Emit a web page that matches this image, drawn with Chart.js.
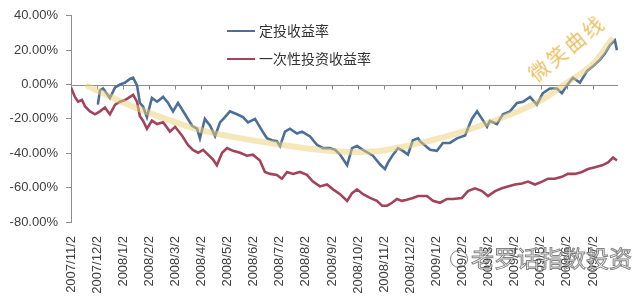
<!DOCTYPE html>
<html>
<head>
<meta charset="utf-8">
<script src="https://cdn.jsdelivr.net/npm/chart.js@4/dist/chart.umd.min.js"></script>
<style>
  html, body { margin: 0; padding: 0; background: #ffffff; }
  #wrap { position: relative; width: 640px; height: 303px; overflow: hidden; }
  #c { position: absolute; left: 0; top: 0; }
  .leg { position: absolute; font-family: "Noto Sans CJK SC", sans-serif; font-size: 14px; color: #333; white-space: nowrap; line-height: 16px; }
  .leg i { display: inline-block; width: 28px; height: 0; border-top: 2.5px solid; vertical-align: middle; margin-right: 4px; position: relative; top: -1px; }
  #smile { position: absolute; left: 567px; top: 48px; transform: translate(-50%, -50%) rotate(-39deg); font-family: "Noto Sans CJK SC", sans-serif; font-size: 20px; letter-spacing: 3px; color: #E8BF5E; white-space: nowrap; line-height: 22px; }
  #wm { position: absolute; left: 450px; top: 244px; font-family: "Noto Sans CJK SC", sans-serif; font-size: 23px; color: rgba(255,255,255,0.85); -webkit-text-stroke: 1px rgba(90,90,90,0.75); white-space: nowrap; line-height: 26px; }
  #wm span.ic { display: inline-block; width: 16px; height: 16px; border: 1.5px solid rgba(90,90,90,0.75); border-radius: 50%; vertical-align: middle; margin-right: 3px; position: relative; top: -2px; }
</style>
</head>
<body>
<div id="wrap">
  <canvas id="c" width="640" height="303"></canvas>
  <div class="leg" style="left:227px; top:22px;"><i style="border-color:#4B6F99"></i>定投收益率</div>
  <div class="leg" style="left:227px; top:50px;"><i style="border-color:#A3435A"></i>一次性投资收益率</div>
  <div id="smile">微笑曲线</div>
  <div id="wm"><span class="ic"></span>老罗话指数投资</div>
</div>
<script>
// Tick labels (monthly dates) on the category axis
const tickLabels = ["2007/11/2","2007/12/2","2008/1/2","2008/2/2","2008/3/2","2008/4/2","2008/5/2","2008/6/2","2008/7/2","2008/8/2","2008/9/2","2008/10/2","2008/11/2","2008/12/2","2009/1/2","2009/2/2","2009/3/2","2009/4/2","2009/5/2","2009/6/2","2009/7/2"];

// Series 1: 定投收益率 (months since 2007/11/2, return %)
const dingtouMonths = [1.03,1.11,1.23,1.49,1.69,1.88,2.07,2.26,2.38,2.53,2.64,2.76,2.91,3.10,3.30,3.53,3.72,3.91,4.10,4.37,4.64,4.83,4.94,5.13,5.33,5.52,5.71,5.90,6.09,6.36,6.59,6.78,7.05,7.32,7.51,7.70,7.89,8.01,8.20,8.39,8.66,8.85,9.16,9.43,9.66,9.92,10.12,10.31,10.58,10.77,10.96,11.19,11.38,11.57,11.84,12.03,12.15,12.34,12.53,12.72,12.91,13.10,13.30,13.37,13.76,14.02,14.25,14.52,14.79,15.10,15.36,15.56,15.75,15.94,16.05,16.32,16.55,16.82,17.09,17.32,17.59,17.85,18.08,18.35,18.62,18.81,19.00,19.23,19.50,19.77,20.00,20.27,20.46,20.65,20.84,20.92];
const dingtouValues = [-11.7,-3.4,-2.3,-7.8,-1.7,0.0,1.1,3.3,4.0,-0.5,-10.7,-12.8,-19.0,-7.8,-10.0,-7.2,-10.7,-15.6,-10.7,-17.3,-24.0,-25.7,-31.3,-20.0,-24.0,-30.0,-22.0,-19.0,-15.6,-17.3,-19.0,-22.0,-20.0,-26.8,-31.3,-32.4,-33.0,-35.8,-27.4,-25.7,-28.5,-27.4,-30.2,-35.2,-37.0,-37.0,-38.0,-40.8,-47.0,-37.0,-35.8,-38.0,-39.7,-41.4,-46.4,-49.2,-45.3,-40.8,-37.0,-38.6,-40.8,-32.4,-31.3,-33.0,-38.0,-38.6,-34.0,-34.0,-31.3,-29.6,-20.0,-15.6,-20.0,-24.6,-21.2,-23.0,-17.3,-15.6,-10.7,-10.0,-7.2,-11.7,-5.0,-2.3,-2.3,-5.0,-0.5,4.0,1.1,7.8,10.6,14.5,18.0,22.9,25.7,20.0];

// Series 2: 一次性投资收益率
const lumpMonths = [0.00,0.15,0.27,0.42,0.54,0.73,0.92,1.11,1.30,1.49,1.69,1.88,2.07,2.26,2.38,2.53,2.64,2.76,2.91,3.10,3.30,3.53,3.79,3.99,4.25,4.48,4.67,4.87,5.06,5.25,5.44,5.59,5.79,5.98,6.21,6.48,6.74,6.97,7.24,7.43,7.63,7.89,8.08,8.28,8.51,8.77,9.04,9.27,9.54,9.81,10.04,10.31,10.58,10.77,10.96,11.19,11.46,11.72,11.92,12.11,12.30,12.49,12.68,12.87,13.10,13.30,13.64,13.87,14.14,14.41,14.64,14.98,15.21,15.48,15.75,15.98,16.25,16.51,16.74,17.01,17.28,17.51,17.78,18.05,18.28,18.54,18.81,19.04,19.31,19.58,19.81,20.08,20.35,20.58,20.77,20.92];
const lumpValues = [-1.7,-7.2,-10.0,-9.0,-12.8,-15.6,-17.3,-15.6,-13.4,-17.3,-11.7,-10.0,-9.0,-7.2,-6.0,-10.0,-18.5,-21.0,-25.7,-21.0,-23.0,-22.0,-27.4,-24.6,-29.6,-35.2,-38.0,-39.7,-38.0,-40.8,-43.6,-47.0,-39.7,-37.0,-38.6,-39.7,-41.4,-40.8,-44.2,-50.9,-52.0,-52.6,-54.8,-50.9,-52.0,-50.9,-52.6,-56.5,-59.3,-58.2,-61.0,-63.8,-67.7,-63.2,-61.0,-63.8,-66.0,-67.7,-70.5,-70.5,-68.8,-66.6,-67.7,-67.0,-66.0,-64.9,-64.9,-67.7,-68.8,-66.6,-66.6,-66.0,-62.0,-60.4,-62.0,-64.9,-62.0,-60.4,-59.3,-58.2,-57.6,-56.5,-58.2,-56.5,-54.8,-54.8,-53.7,-52.0,-52.0,-50.9,-49.2,-48.1,-47.0,-45.3,-42.5,-44.2];

// Smile curve (hand-drawn trend)
const smileMonths = [0.65,2.40,4.40,5.70,7.60,9.90,11.60,12.60,13.40,15.16,17.70,19.00,20.00,20.70];
const smileValues = [-1.0,-13.0,-24.0,-29.0,-34.0,-38.5,-39.0,-36.5,-34.0,-26.7,-11.7,1.0,12.0,26.0];

const yTicks = [-80,-60,-40,-20,0,20,40];

const toPts = (xs, ys) => xs.map((x, i) => ({ x: x, y: ys[i] }));

const zeroLinePlugin = {
  id: 'zeroLine',
  beforeDatasetsDraw(chart) {
    const { ctx, scales: { x, y }, chartArea } = chart;
    const y0 = Math.round(y.getPixelForValue(0)) + 0.5;
    ctx.save();
    ctx.strokeStyle = '#8c8c8c';
    ctx.lineWidth = 1;
    ctx.beginPath();
    ctx.moveTo(chartArea.left, y0);
    ctx.lineTo(chartArea.right, y0);
    for (let i = 0; i < tickLabels.length; i++) {
      const px = Math.round(x.getPixelForValue(i)) + 0.5;
      ctx.moveTo(px, y0);
      ctx.lineTo(px, y0 + 4);
    }
    ctx.stroke();
    ctx.restore();
  }
};

new Chart(document.getElementById('c'), {
  type: 'line',
  data: {
    datasets: [
      { label: '微笑曲线', data: toPts(smileMonths, smileValues), borderColor: 'rgba(238,208,120,0.5)', borderWidth: 6, pointRadius: 0, tension: 0.4, order: 0, borderCapStyle: 'round' },
      { label: '定投收益率', data: toPts(dingtouMonths, dingtouValues), borderColor: '#4B6F99', borderWidth: 2.6, pointRadius: 0, tension: 0, order: 1 },
      { label: '一次性投资收益率', data: toPts(lumpMonths, lumpValues), borderColor: '#A3435A', borderWidth: 2.6, pointRadius: 0, tension: 0, order: 2 }
    ]
  },
  options: {
    responsive: false,
    animation: false,
    layout: { padding: { left: 0, right: 22, top: 7, bottom: 0 } },
    plugins: { legend: { display: false }, tooltip: { enabled: false } },
    scales: {
      x: {
        type: 'linear',
        min: 0,
        max: 20.96,
        afterBuildTicks: (s) => { s.ticks = tickLabels.map((_, i) => ({ value: i })); },
        afterFit: (s) => { s.height = 81; },
        grid: { display: false, drawTicks: false },
        border: { display: false },
        ticks: {
          autoSkip: false,
          minRotation: 90,
          maxRotation: 90,
          padding: 14,
          color: '#404040',
          font: { family: '"Liberation Sans", Arial, sans-serif', size: 13 },
          callback: (v) => tickLabels[v]
        }
      },
      y: {
        min: -80,
        max: 40,
        afterBuildTicks: (s) => { s.ticks = yTicks.map(v => ({ value: v })); },
        afterFit: (s) => { s.width = 71; },
        grid: { drawOnChartArea: false, tickLength: 5, color: '#8c8c8c' },
        border: { color: '#8c8c8c' },
        ticks: {
          padding: 8,
          color: '#404040',
          font: { family: '"Liberation Sans", Arial, sans-serif', size: 13 },
          callback: (v) => v.toFixed(2) + '%'
        }
      }
    }
  },
  plugins: [zeroLinePlugin]
});
</script>
</body>
</html>
